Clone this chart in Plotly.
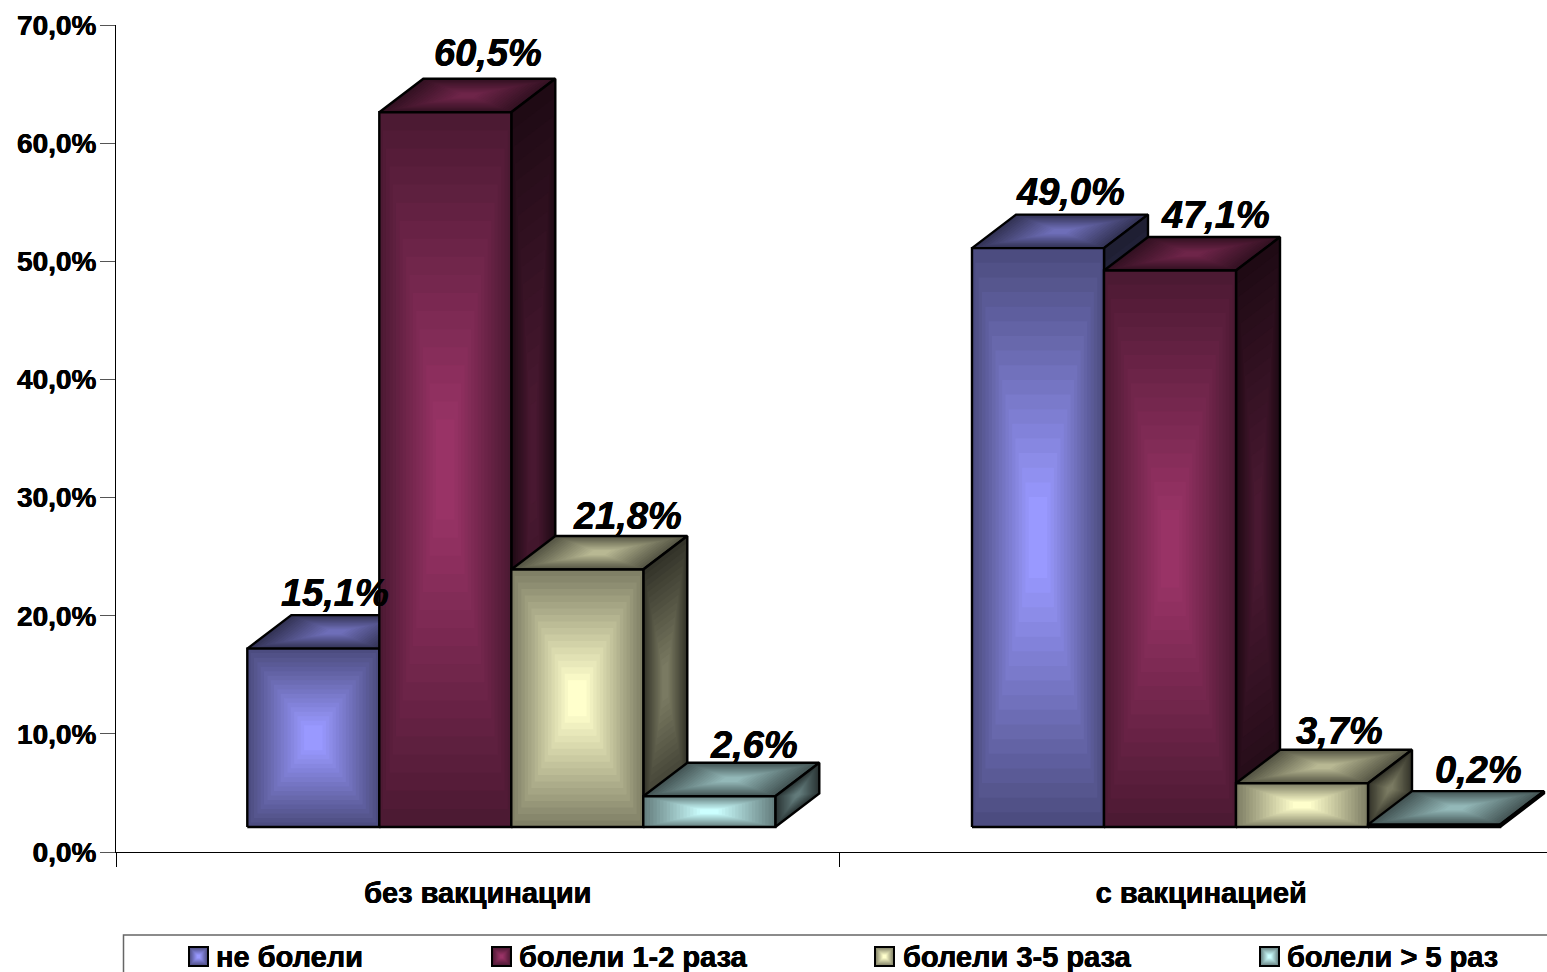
import plotly.graph_objects as go

# ---- data ----
categories = ["без вакцинации", "с вакцинацией"]
series_names = ["не болели", "болели 1-2 раза", "болели 3-5 раза", "болели > 5 раз"]
ne_boleli = [15.1, 49.0]
boleli_1_2 = [60.5, 47.1]
boleli_3_5 = [21.8, 3.7]
boleli_5 = [2.6, 0.2]
y_ticks = [0, 10, 20, 30, 40, 50, 60, 70]
all_series = [ne_boleli, boleli_1_2, boleli_3_5, boleli_5]

# ---- style ----
FONT = "Liberation Sans"
THICK = "0.35px 0 0 black, -0.35px 0 0 black"
center_colors = [(153, 153, 255), (153, 51, 102), (255, 255, 204), (204, 255, 255)]
W, H = 1547, 972
PL, PR, PT, PB = 116, 1547, 25, 852          # plot area in pixels
PX_PER_CAT = 723.5
PX_PER_UNIT = (PB - PT) / 70
BAR_W = 132 / PX_PER_CAT
GROUP_OFF = 131.3 / PX_PER_CAT
GROUP_STEP = 724.7 / PX_PER_CAT
DEPTH_X = 44 / PX_PER_CAT
DEPTH_Y = 33.5 / PX_PER_UNIT
FLOOR = 25 / PX_PER_UNIT
STEPS = 18
# hand-placed data-label nudges (pixels relative to the bar's back top centre)
label_dx = [[0, 21, 28, 23], [10, 23, 15, 22]]
label_dy = [[22, 26, 20, 18], [23, 22, 19, 21]]

fig = go.Figure()


def mix(c, k):
    return tuple(v * k for v in c)


def rgb(c):
    return "rgb(%d,%d,%d)" % tuple(round(v) for v in c)


def face(xs, ys, color, edge_k, center_k, name):
    cx, cy = sum(xs) / len(xs), sum(ys) / len(ys)
    for i in range(STEPS):
        t = i / (STEPS - 1)
        s = 1 - t * 0.86
        k = edge_k + (center_k - edge_k) * t
        px = [cx + (x - cx) * s for x in xs] + [cx + (xs[0] - cx) * s]
        py = [cy + (y - cy) * s for y in ys] + [cy + (ys[0] - cy) * s]
        fig.add_trace(go.Scatter(x=px, y=py, mode="lines", fill="toself",
                                 fillcolor=rgb(mix(color, k)), line=dict(width=0),
                                 hoverinfo="skip", showlegend=False, name=name))
    fig.add_trace(go.Scatter(x=list(xs) + [xs[0]], y=list(ys) + [ys[0]], mode="lines",
                             line=dict(color="black", width=2.4), hoverinfo="skip",
                             showlegend=False, name=name))


annots = []
for g, cat in enumerate(categories):
    for b, vals in enumerate(all_series):
        v = vals[g]
        x0 = g * GROUP_STEP + GROUP_OFF + b * BAR_W
        x1 = x0 + BAR_W
        y0 = FLOOR
        y1 = FLOOR + v
        col = center_colors[b]
        nm = series_names[b]
        # top
        face([x0, x1, x1 + DEPTH_X, x0 + DEPTH_X], [y1, y1, y1 + DEPTH_Y, y1 + DEPTH_Y], col, 0.33, 0.72, nm)
        # side
        face([x1, x1 + DEPTH_X, x1 + DEPTH_X, x1], [y0, y0 + DEPTH_Y, y1 + DEPTH_Y, y1], col, 0.2, 0.48, nm)
        # front
        face([x0, x1, x1, x0], [y0, y0, y1, y1], col, 0.5, 1.0, nm)
        annots.append(dict(x=(x0 + x1) / 2 + DEPTH_X / 2, y=y1 + DEPTH_Y, xref="x", yref="y",
                           xshift=label_dx[g][b], yshift=label_dy[g][b],
                           text=("%.1f%%" % v).replace(".", ","), showarrow=False,
                           xanchor="center", yanchor="middle",
                           font=dict(family=FONT, size=38, color="black", weight=700, style="italic",
                                     shadow=THICK)))


# legend drawn by hand at the reference's uneven positions
def px_x(p):
    return (p - PL) / (PR - PL)


def px_y(p):
    return (PB - p) / (PB - PT)


shapes = [dict(type="rect", xref="paper", yref="paper", x0=px_x(123.5), x1=px_x(1600),
               y0=px_y(1000), y1=px_y(935), line=dict(color="#666666", width=1.5),
               fillcolor="rgba(0,0,0,0)")]
leg_x = [189, 492, 875, 1260]
leg_text_x = [214, 517, 901, 1285]
SW = 19
for i, nm in enumerate(series_names):
    sx, sy = leg_x[i], 947
    for j in range(8):
        t = j / 7
        inset = t * SW / 2 * 0.8
        shapes.append(dict(type="rect", xref="paper", yref="paper",
                           x0=px_x(sx + inset), x1=px_x(sx + SW - inset),
                           y0=px_y(sy + SW - inset), y1=px_y(sy + inset), layer="above",
                           line=dict(width=0), fillcolor=rgb(mix(center_colors[i], 0.5 + 0.5 * t))))
    shapes.append(dict(type="rect", xref="paper", yref="paper",
                       x0=px_x(sx), x1=px_x(sx + SW), y0=px_y(sy + SW), y1=px_y(sy), layer="above",
                       line=dict(color="black", width=2), fillcolor="rgba(0,0,0,0)"))
    annots.append(dict(x=px_x(leg_text_x[i]), y=px_y(957), xref="paper", yref="paper", text=nm,
                       showarrow=False, xanchor="left", yanchor="middle", xshift=0,
                       font=dict(family=FONT, size=29, color="black", weight=700, shadow=THICK)))

fig.update_layout(
    width=W, height=H, autosize=False, showlegend=False,
    margin=dict(l=PL, r=W - PR, t=PT, b=H - PB, pad=0),
    paper_bgcolor="white", plot_bgcolor="white",
    annotations=annots, shapes=shapes,
    xaxis=dict(range=[0, (PR - PL) / PX_PER_CAT], showgrid=False, zeroline=False,
               showline=True, linecolor="black", linewidth=1,
               tickmode="array", tickvals=[0.5, 1.5], ticktext=categories,
               ticks="outside", ticklen=15, tickwidth=1, tickcolor="rgba(0,0,0,0)",
               tickfont=dict(family=FONT, size=29, color="black", weight=700, shadow=THICK),
               minor=dict(tickmode="linear", tick0=0, dtick=1, ticks="outside", ticklen=14,
                          tickwidth=1, tickcolor="black", showgrid=False)),
    yaxis=dict(range=[0, 70], showgrid=False, zeroline=False, showline=True,
               linecolor="black", linewidth=1, tickmode="array", tickvals=y_ticks,
               ticktext=[("%.1f%%" % t).replace(".", ",") for t in y_ticks],
               ticks="outside", ticklen=15, tickwidth=1, tickcolor="#555555", ticklabelstandoff=-2,
               tickfont=dict(family=FONT, size=28, color="black", weight=700, shadow=THICK)),
)

fig.write_html("out.html", config={"displayModeBar": False},
               post_script="document.body.style.margin='0';document.body.style.overflow='hidden';")
